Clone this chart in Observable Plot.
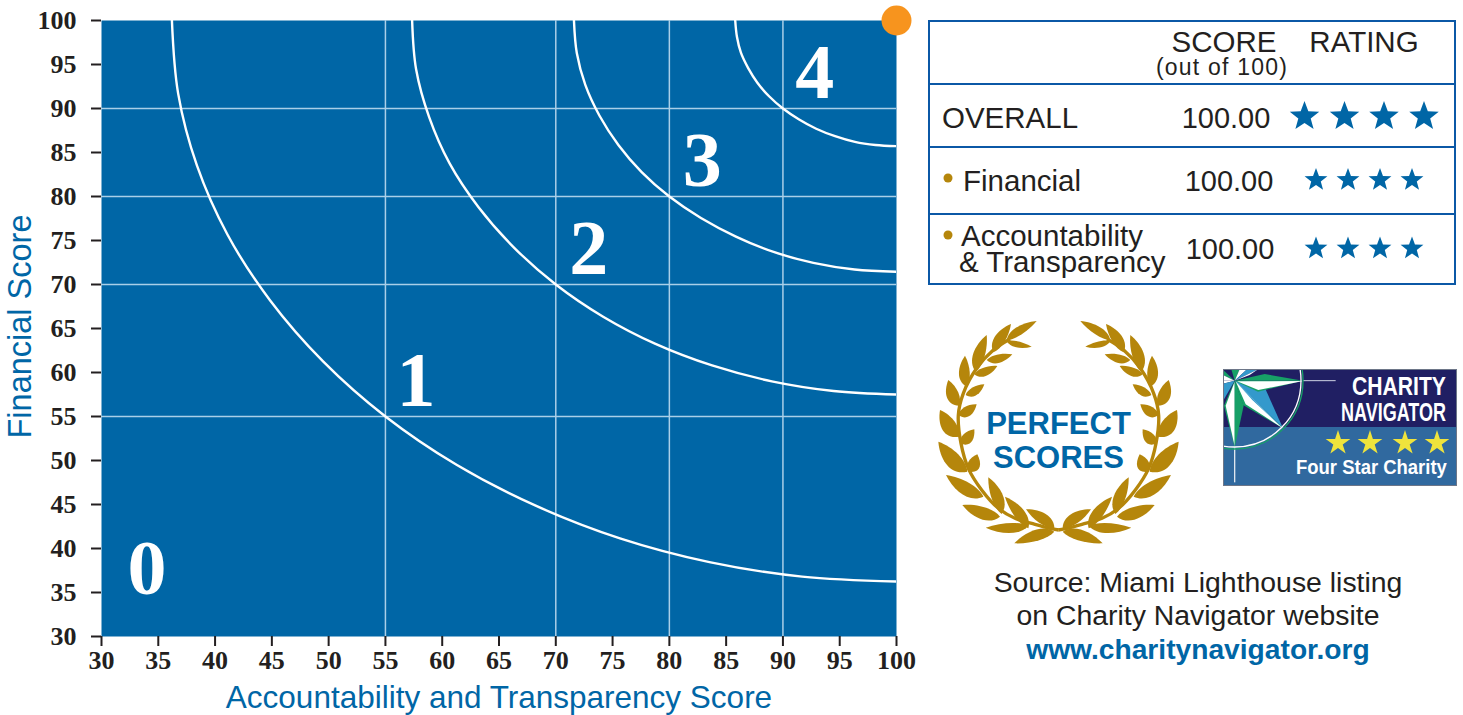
<!DOCTYPE html>
<html>
<head>
<meta charset="utf-8">
<script src="https://cdn.jsdelivr.net/npm/d3@7"></script>
<script src="https://cdn.jsdelivr.net/npm/@observablehq/plot@0.6"></script>
<style>
html,body{margin:0;padding:0;background:#fff;overflow:hidden}
#wrap{position:relative;width:1463px;height:715px}
#wrap svg{position:absolute;top:0;left:0}
#panel{left:920px!important}
</style>
</head>
<body>
<div id="wrap"></div>
<script>
const ticks = d3.range(30, 101, 5);
const gridLines = [55, 70, 80, 90];
const curve1 = [[36.2,100],[36.75,91.69],[38.4,83.53],[41.1,75.65],[44.85,68.18],[49.51,61.26],[55,55],[61.26,49.51],[68.18,44.89],[75.65,41.15],[83.53,38.45],[91.69,36.8],[100,36.25]];
const curve2 = [[57.35,100],[57.7,94.46],[58.85,89.02],[60.65,83.76],[63.2,78.78],[66.34,74.17],[70,70],[74.17,66.34],[78.78,63.25],[83.76,60.8],[89.02,59],[94.46,57.9],[100,57.5]];
const curve3 = [[71.6,100],[71.85,96.31],[72.6,92.68],[73.85,89.18],[75.51,85.86],[77.56,82.78],[80,80],[82.78,77.56],[85.86,75.45],[89.18,73.7],[92.68,72.45],[96.31,71.7],[100,71.45]];
const curve4 = [[85.8,100],[85.95,98.15],[86.3,96.34],[86.94,94.59],[87.75,92.93],[88.78,91.39],[90,90],[91.39,88.78],[92.93,87.7],[94.59,86.85],[96.34,86.2],[98.15,85.85],[100,85.72]];
const curves = [curve1, curve2, curve3, curve4];
const regionLabels = ["0","1","2","3","4"];
const regionX = [34, 57.7, 72.9, 82.9, 92.8];
const regionY = [37.7, 59, 74, 84, 94];
const markerX = [100];
const markerY = [100];
const xTitle = "Accountability and Transparency Score";
const yTitle = "Financial Score";

const BLUE = "#0066a6", INK = "#231f20";
const serif = "'Liberation Serif', serif", sans = "'Liberation Sans', Arial, sans-serif";

const plot = Plot.plot({
  width: 1463, height: 715,
  marginLeft: 101, marginRight: 567, marginTop: 20, marginBottom: 79,
  style: {background: "transparent", overflow: "visible"},
  x: {domain: [30, 100], label: null},
  y: {domain: [30, 100], label: null},
  marks: [
    Plot.frame({fill: BLUE, stroke: "none"}),
    Plot.ruleX(gridLines, {stroke: "#a9cfe8", strokeWidth: 1.5}),
    Plot.ruleY(gridLines, {stroke: "#a9cfe8", strokeWidth: 1.5}),
    ...curves.map(c => Plot.line(c, {x: d => d[0], y: d => d[1], stroke: "#fff", strokeWidth: 2.4, curve: "catmull-rom", clip: "frame"})),
    Plot.text(regionLabels, {x: (d,i) => regionX[i], y: (d,i) => regionY[i], text: d => d, fill: "#fff", fontFamily: serif, fontWeight: "bold", fontSize: 78, lineAnchor: "middle"}),
    Plot.axisX({ticks, tickSize: 10, tickPadding: 4, tickFormat: d => d, label: null, color: INK, strokeWidth: 2, fontFamily: serif, fontWeight: "bold", fontSize: 26}),
    Plot.axisY({ticks, tickSize: 10, tickPadding: 15, tickFormat: d => d, label: null, color: INK, strokeWidth: 2, fontFamily: serif, fontWeight: "bold", fontSize: 26}),
    Plot.text([xTitle], {frameAnchor: "bottom", dy: 61, text: d => d, fill: BLUE, fontFamily: sans, fontSize: 31.5, lineAnchor: "middle"}),
    Plot.text([yTitle], {frameAnchor: "left", textAnchor: "middle", dx: -81, dy: -2, rotate: -90, text: d => d, fill: BLUE, fontFamily: sans, fontSize: 32.5, lineAnchor: "middle"}),
    Plot.dot(markerX, {x: d => d, y: (d,i) => markerY[i], r: 15, fill: "#f7941e", clip: false})
  ]
});
document.getElementById("wrap").appendChild(plot);

/* ---- right-hand panel ---- */
const tableLines = [84, 147, 214];
const tableTexts = [
  ["SCORE",1224,52,29.5,"middle",INK],
  ["RATING",1364,52,29.5,"middle",INK],
  ["OVERALL",942,128,29.5,"start",INK],
  ["100.00",1226,128,29,"middle",INK],
  ["Financial",963,191,29.5,"start",INK],
  ["100.00",1229,191,29,"middle",INK],
  ["Accountability",961,246,29.5,"start",INK],
  ["& Transparency",959,272,29.5,"start",INK],
  ["100.00",1230,259,29,"middle",INK]
];
const bigStars = [[1304.5,116.5],[1344.5,116.5],[1384,116.5],[1424,116.5]];
const smallStars = [[1316,180],[1348,180],[1380,180],[1412,180],[1316,248.5],[1348,248.5],[1380,248.5],[1412,248.5]];
const logoStars = [[1338,443],[1370,443],[1405,443],[1437,443]];
const bullets = [[948,178],[948,235]];

// wreath leaves of the left branch (base x, base y, tip x, tip y, belly)
const leaves = [
 [215,76,305,18,-22],[215,78,290,95,16],[175,112,228,27,-28],[155,135,232,118,22],
 [122,170,155,60,-30],[118,178,187,153,22],[95,215,90,122,-28],[92,240,148,208,22],
 [72,272,40,195,-32],[70,300,125,268,26],[72,365,15,285,-38],[75,385,118,343,28],
 [97,470,10,380,-40],[100,470,127,418,32],[145,545,33,480,-34],[200,597,160,487,30],
 [195,605,82,570,-32],[280,640,210,545,28],[280,632,152,638,-26],[358,640,273,583,28],
 [358,650,238,685,28]
];
const stem = [[371,645],[345,640],[300,628],[240,610],[190,580],[140,525],[100,460],[78,385],[70,300],[85,235],[125,160],[175,105],[225,72]];

const panel = d3.create("svg").attr("id","panel").attr("width",543).attr("height",715)
  .attr("viewBox","920 0 543 715");

function starPath(cx, cy, R, k = 0.42) {
  const pts = [];
  for (let i = 0; i < 10; i++) {
    const r = i % 2 ? R * k : R, a = -Math.PI/2 + i*Math.PI/5;
    pts.push([cx + r*Math.cos(a), cy + r*Math.sin(a)]);
  }
  return "M" + pts.map(p => p.join(",")).join("L") + "Z";
}

// table
panel.append("rect").attr("x",929).attr("y",21).attr("width",526).attr("height",263)
  .attr("fill","none").attr("stroke","#0b58a6").attr("stroke-width",2);
tableLines.forEach(y => panel.append("line").attr("x1",929).attr("x2",1455).attr("y1",y).attr("y2",y)
  .attr("stroke","#0b58a6").attr("stroke-width",2));
tableTexts.forEach(t => panel.append("text").text(t[0]).attr("x",t[1]).attr("y",t[2]).attr("font-size",t[3])
  .attr("text-anchor",t[4]).attr("fill",t[5]).attr("font-family",sans));
panel.append("text").text("(out of 100)").attr("x",1222).attr("y",75).attr("font-size",23).attr("letter-spacing",1.2)
  .attr("text-anchor","middle").attr("fill",INK).attr("font-family",sans);
bigStars.forEach(s => panel.append("path").attr("d",starPath(s[0],s[1],15.5)).attr("fill",BLUE));
smallStars.forEach(s => panel.append("path").attr("d",starPath(s[0],s[1],12)).attr("fill",BLUE));
bullets.forEach(b => panel.append("circle").attr("cx",b[0]).attr("cy",b[1]).attr("r",4.5).attr("fill","#b5860b"));

// wreath, drawn in a 3x crop space around (935,315)
const wreath = panel.append("g").attr("transform","translate(935,315) scale(0.33333)").attr("fill","#b5860b");
function leafPath(l) {
  const [bx,by,tx,ty,w] = l;
  const dx = tx-bx, dy = ty-by, L = Math.hypot(dx,dy), nx = -dy/L, ny = dx/L;
  const p = (a, o) => `${bx+dx*a+nx*o},${by+dy*a+ny*o}`;
  const o = w, i = -w*0.55;
  return `M${bx},${by}C${p(0.2,o*1.1)} ${p(0.65,o*0.9)} ${tx},${ty}C${p(0.65,i)} ${p(0.2,i)} ${bx},${by}Z`;
}
const stemPath = d3.line().curve(d3.curveCatmullRom)(stem);
[0,1].forEach(side => {
  const g = wreath.append("g").attr("transform", side ? "translate(741,0) scale(-1,1)" : null);
  g.append("path").attr("d",stemPath).attr("fill","none").attr("stroke","#b5860b").attr("stroke-width",10);
  leaves.forEach(l => g.append("path").attr("d",leafPath(l)));
});
[["PERFECT",433.5],["SCORES",468]].forEach(t => panel.append("text").text(t[0]).attr("x",1058.5).attr("y",t[1])
  .attr("text-anchor","middle").attr("font-family",sans).attr("font-weight","bold").attr("font-size",31).attr("fill","#0066a6"));

// logo
const defs = panel.append("defs");
defs.append("clipPath").attr("id","logoClip").append("rect").attr("x",1223).attr("y",369).attr("width",234).attr("height",117);
const logoBox = panel.append("g").attr("clip-path","url(#logoClip)");
logoBox.append("rect").attr("x",1223).attr("y",369).attr("width",234).attr("height",58).attr("fill","#201f63");
logoBox.append("rect").attr("x",1223).attr("y",427).attr("width",234).attr("height",59).attr("fill","#30699f");
// compass, in a 3x crop space around (1223,365)
const logo = logoBox.append("g").attr("transform","translate(1223,365) scale(0.33333)");
logo.append("line").attr("x1",240).attr("x2",338).attr("y1",47).attr("y2",47).attr("stroke","#cfd3e4").attr("stroke-width",3);
logo.append("line").attr("x1",35).attr("x2",35).attr("y1",248).attr("y2",352).attr("stroke","#dfe6ef").attr("stroke-width",4);
const poly = (pts, fill) => logo.append("polygon").attr("points",pts.map(p=>p.join(",")).join(" ")).attr("fill",fill);
poly([[35,47],[0,14],[0,30]],"#17a067");
poly([[35,47],[0,30],[0,47]],"#fff");
poly([[35,47],[0,48],[0,56]],"#fff");
poly([[35,47],[0,56],[0,108]],"#3399cc");
poly([[35,47],[25,13],[50,13]],"#17a067");
poly([[35,47],[50,13],[72,13]],"#fff");
poly([[35,47],[72,13],[105,13]],"#3399cc");
poly([[35,47],[105,13],[80,30]],"#fff");
poly([[35,47],[122,60],[180,190]],"#3399cc");
poly([[35,47],[60,120],[180,190]],"#17a067");
poly([[38,49],[68,118],[178,189]],"#fff");
poly([[38,49],[88,105],[178,189]],"#3399cc");
poly([[35,47],[125,27],[240,47]],"#17a067");
poly([[35,47],[240,47],[105,80]],"#17a067");
poly([[42,49],[240,48],[106,75]],"#fff");
poly([[35,47],[3,122],[35,248]],"#17a067");
poly([[35,50],[8,122],[35,244]],"#fff");
poly([[35,47],[62,122],[35,248]],"#17a067");
logo.append("circle").attr("cx",35).attr("cy",47).attr("r",205).attr("fill","none").attr("stroke","#17a067").attr("stroke-width",4);
logo.append("circle").attr("cx",35).attr("cy",47).attr("r",199).attr("fill","none").attr("stroke","#fff").attr("stroke-width",4);
logoBox.append("rect").attr("x",1223).attr("y",369).attr("width",234).attr("height",117).attr("fill","none").attr("stroke","#6d7688").attr("stroke-width",2);
logoStars.forEach(s => logoBox.append("path").attr("d",starPath(s[0],s[1],13,0.38)).attr("fill","#efe33c"));
const logoTexts = [["CHARITY",1352,395,26,94],["NAVIGATOR",1341,421,26,105],["Four Star Charity",1296,474,20.5,151]];
const logoNodes = logoTexts.map(t =>
  panel.append("text").text(t[0]).attr("font-size",t[3]).attr("font-weight","bold")
    .attr("fill","#fff").attr("font-family",sans));

// source lines
[["Source: Miami Lighthouse listing",592,INK,"normal"],["on Charity Navigator website",625,INK,"normal"],["www.charitynavigator.org",659,"#0066a6","bold"]].forEach(t =>
  panel.append("text").text(t[0]).attr("x",1198).attr("y",t[1]).attr("text-anchor","middle").attr("font-family",sans)
    .attr("font-size",t[3]==="bold"?28.2:28.4).attr("font-weight",t[3]).attr("fill",t[2]));

document.getElementById("wrap").appendChild(panel.node());
// squeeze the logo's words horizontally to the width they have in the reference
logoNodes.forEach((n,i) => {
  const t = logoTexts[i], natural = n.node().getComputedTextLength();
  n.attr("transform",`translate(${t[1]},${t[2]}) scale(${t[4]/natural},1)`);
});
</script>
</body>
</html>
